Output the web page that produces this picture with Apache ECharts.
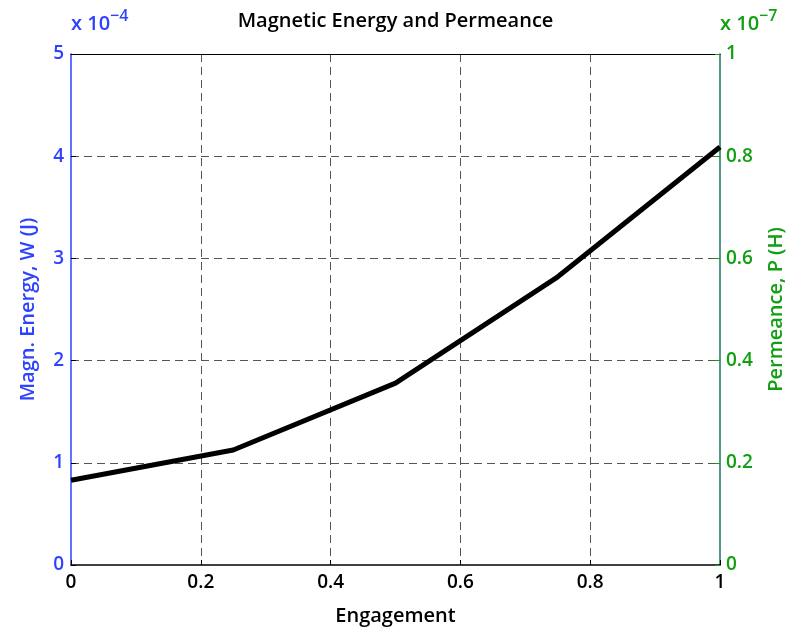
<!DOCTYPE html>
<html><head><meta charset="utf-8">
<script src="https://cdn.jsdelivr.net/npm/echarts@6/dist/echarts.min.js"></script>
<style>html,body{margin:0;padding:0;background:#fff}#c{width:791px;height:634px}</style>
</head><body><div id="c"></div>
<script>
const engagement = [0, 0.25, 0.5, 0.75, 1];
const energy = [0.83, 1.125, 1.78, 2.82, 4.09]; // x 1e-4 J
const leftTicks = [0, 5, 1];   // min, max, interval
const rightTicks = [0, 1, 0.2];
const xTicks = [0, 1, 0.2];

const BLUE = '#2f42ff', GREEN = '#12a012', TEAL = '#1a7565';
const FONT = '"Open Sans", "DejaVu Sans", sans-serif';
const chart = echarts.init(document.getElementById('c'), null, {renderer: 'canvas'});
const fmt = v => (Math.round(v * 10) / 10).toString();
const grid = {type: [8, 5], color: '#555', width: 1};

chart.setOption({
  animation: false,
  title: {text: 'Magnetic Energy and Permeance', left: 'center', top: 6,
    textStyle: {fontFamily: FONT, fontSize: 20, fontWeight: 600, color: '#000'}},
  grid: {left: 71, right: 71, top: 54, bottom: 69, containLabel: false, outerBoundsMode: 'none'},
  xAxis: [{
    type: 'value', min: xTicks[0], max: xTicks[1], interval: xTicks[2],
    name: 'Engagement', nameLocation: 'middle', nameGap: 41,
    nameTextStyle: {fontFamily: FONT, fontSize: 20, fontWeight: 600, color: '#000'},
    axisLine: {onZero: false, lineStyle: {color: '#000', width: 1.5}},
    axisTick: {inside: true, length: 5, lineStyle: {color: '#000'}},
    axisLabel: {fontFamily: FONT, fontSize: 19, fontWeight: 600, color: '#000', margin: 8, formatter: fmt},
    splitLine: {show: true, showMinLine: false, showMaxLine: false, lineStyle: grid}
  }, {
    type: 'value', position: 'top', min: xTicks[0], max: xTicks[1], interval: xTicks[2],
    axisLine: {show: true, onZero: false, lineStyle: {color: '#000', width: 1.2}},
    axisTick: {show: false}, axisLabel: {show: false}, splitLine: {show: false}
  }],
  yAxis: [{
    type: 'value', min: leftTicks[0], max: leftTicks[1], interval: leftTicks[2],
    name: 'Magn. Energy, W (J)', nameLocation: 'middle', nameGap: 33, nameRotate: 90,
    nameTextStyle: {fontFamily: FONT, fontSize: 20, fontWeight: 600, color: BLUE},
    axisLine: {show: true, onZero: false, lineStyle: {color: BLUE, width: 1.5}},
    axisTick: {show: true, inside: true, length: 5, lineStyle: {color: '#000'}},
    axisLabel: {fontFamily: FONT, fontSize: 19, fontWeight: 600, color: BLUE, margin: 7},
    splitLine: {show: true, showMinLine: false, showMaxLine: false, lineStyle: grid}
  }, {
    type: 'value', position: 'right', min: rightTicks[0], max: rightTicks[1], interval: rightTicks[2],
    name: 'Permeance, P (H)', nameLocation: 'middle', nameGap: 46, nameRotate: 90,
    nameTextStyle: {fontFamily: FONT, fontSize: 20, fontWeight: 600, color: GREEN},
    axisLine: {show: true, onZero: false, lineStyle: {color: TEAL, width: 1.5}},
    axisTick: {show: true, inside: true, length: 5, lineStyle: {color: GREEN}},
    axisLabel: {fontFamily: FONT, fontSize: 19, fontWeight: 600, color: GREEN, margin: 6, formatter: fmt},
    splitLine: {show: false}
  }],
  graphic: [
    {type: 'text', left: 71, top: 8, style: {
      rich: {b: {fontFamily: FONT, fontSize: 20, fontWeight: 600, fill: BLUE},
             s: {fontFamily: FONT, fontSize: 16, fontWeight: 600, fill: BLUE, verticalAlign: 'top', padding: [0,0,16,0]}},
      text: '{b|x 10}{s|\u22124}'}},
    {type: 'text', left: 720, top: 8, style: {
      rich: {b: {fontFamily: FONT, fontSize: 20, fontWeight: 600, fill: GREEN},
             s: {fontFamily: FONT, fontSize: 16, fontWeight: 600, fill: GREEN, verticalAlign: 'top', padding: [0,0,16,0]}},
      text: '{b|x 10}{s|\u22127}'}}
  ],
  series: [{
    type: 'line', xAxisIndex: 0, yAxisIndex: 0, symbol: 'none',
    data: engagement.map((x, i) => [x, energy[i]]),
    lineStyle: {color: '#000', width: 5}
  }]
});
</script></body></html>
